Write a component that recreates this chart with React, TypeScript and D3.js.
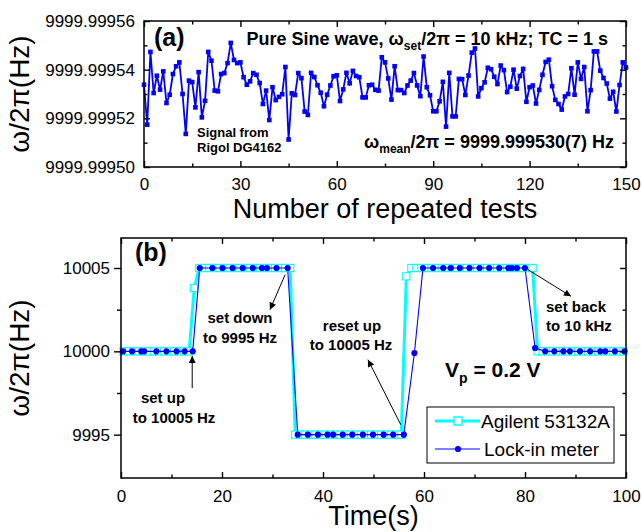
import React, { useEffect, useRef } from "react";
import * as d3 from "d3";

const FONT = "'Liberation Sans', Arial, Helvetica, sans-serif";

// (a) frequency of each repeated test, Hz (test number = index)
const sineFreq = [
  9999.9995338, 9999.9995174, 9999.9995473, 9999.9995304, 9999.9995375, 9999.9995318, 9999.9995393, 9999.9995263, 9999.9995297, 9999.9995382,
  9999.9995414, 9999.999543, 9999.99953, 9999.9995136, 9999.9995355, 9999.9995349, 9999.9995245, 9999.999539, 9999.9995204, 9999.9995272,
  9999.9995473, 9999.9995437, 9999.9995314, 9999.9995311, 9999.9995382, 9999.9995386, 9999.9995427, 9999.999551, 9999.999544, 9999.9995427,
  9999.999543, 9999.9995369, 9999.9995338, 9999.9995352, 9999.9995386, 9999.9995379, 9999.9995345, 9999.9995259, 9999.9995314, 9999.9995193,
  9999.9995328, 9999.9995275, 9999.9995288, 9999.9995299, 9999.9995411, 9999.9995113, 9999.9995303, 9999.9995296, 9999.9995386, 9999.9995365,
  9999.9995228, 9999.9995214, 9999.9995387, 9999.999537, 9999.9995336, 9999.9995305, 9999.999525, 9999.9995297, 9999.9995335, 9999.9995373,
  9999.9995377, 9999.9995271, 9999.9995319, 9999.9995387, 9999.9995344, 9999.9995395, 9999.9995374, 9999.9995369, 9999.9995286, 9999.9995286,
  9999.9995336, 9999.9995338, 9999.9995317, 9999.9995314, 9999.9995451, 9999.999543, 9999.9995364, 9999.9995277, 9999.9995414, 9999.9995316,
  9999.9995316, 9999.9995304, 9999.9995335, 9999.9995355, 9999.9995386, 9999.9995335, 9999.9995291, 9999.9995454, 9999.9995328, 9999.9995295,
  9999.9995229, 9999.9995229, 9999.999527, 9999.999535, 9999.9995166, 9999.9995387, 9999.9995208, 9999.9995208, 9999.9995362, 9999.9995361,
  9999.9995296, 9999.9995376, 9999.999547, 9999.9995487, 9999.999529, 9999.9995324, 9999.9995348, 9999.9995408, 9999.9995402, 9999.9995371,
  9999.9995341, 9999.9995417, 9999.9995398, 9999.9995308, 9999.999533, 9999.99954, 9999.9995322, 9999.9995374, 9999.9995403, 9999.9995268,
  9999.9995328, 9999.9995335, 9999.9995261, 9999.9995317, 9999.9995379, 9999.9995432, 9999.9995441, 9999.9995332, 9999.9995276, 9999.9995259,
  9999.9995236, 9999.999529, 9999.99953, 9999.9995406, 9999.9995297, 9999.999543, 9999.9995362, 9999.9995411, 9999.9995229, 9999.9995316,
  9999.9995475, 9999.9995475, 9999.9995396, 9999.9995366, 9999.9995343, 9999.9995281, 9999.9995309, 9999.9995228, 9999.9995337, 9999.999543,
  9999.9995409,
];

// (b) Agilent 53132A counter
const agilentTime = [
  0.5, 1.5, 2.5, 3.5, 4.5, 5.5, 6.5, 7.5, 8.5, 9.5, 10.5, 11.5, 12.5, 13.5, 14.5, 15.5, 16.5, 17.5, 18.5, 19.5,
  20.5, 21.5, 22.5, 23.5, 24.5, 25.5, 26.5, 27.5, 28.5, 29.5, 30.5, 31.5, 32.5, 33.5, 34.5, 35.5, 36.5, 37.5, 38.5, 39.5,
  40.5, 41.5, 42.5, 43.5, 44.5, 45.5, 46.5, 47.5, 48.5, 49.5, 50.5, 51.5, 52.5, 53.5, 54.5, 55.5, 56.5, 57.5, 58.5, 59.5,
  60.5, 61.5, 62.5, 63.5, 64.5, 65.5, 66.5, 67.5, 68.5, 69.5, 70.5, 71.5, 72.5, 73.5, 74.5, 75.5, 76.5, 77.5, 78.5, 79.5,
  80.5, 81.5, 82.5, 83.5, 84.5, 85.5, 86.5, 87.5, 88.5, 89.5, 90.5, 91.5, 92.5, 93.5, 94.5, 95.5, 96.5, 97.5, 98.5, 99.5,
];
const agilentFreq = [
  10000, 10000, 10000, 10000, 10000, 10000, 10000, 10000, 10000, 10000, 10000, 10000, 10000, 10000, 10003.8, 10005, 10005, 10005, 10005, 10005,
  10005, 10005, 10005, 10005, 10005, 10005, 10005, 10005, 10005, 10005, 10005, 10005, 10005, 10005, 9995, 9995, 9995, 9995, 9995, 9995,
  9995, 9995, 9995, 9995, 9995, 9995, 9995, 9995, 9995, 9995, 9995, 9995, 9995, 9995, 9995, 9995, 10004.5, 10005, 10005, 10005,
  10005, 10005, 10005, 10005, 10005, 10005, 10005, 10005, 10005, 10005, 10005, 10005, 10005, 10005, 10005, 10005, 10005, 10005, 10005, 10005,
  10005, 10005, 10000, 10000, 10000, 10000, 10000, 10000, 10000, 10000, 10000, 10000, 10000, 10000, 10000, 10000, 10000, 10000, 10000, 10000,
];

// (b) lock-in meter
const lockTime = [
  0.4, 2.2, 4.0, 4.6, 7.0, 9.0, 11.0, 12.6, 14.2,
  15.6, 18.1, 20.1, 22.1, 24.1, 26.1, 27.9, 28.9, 30.8, 33.0,
  35.0, 37.0, 39.0, 40.9, 42.0, 43.9, 45.8, 47.9, 49.9, 52.0, 53.9, 56.0,
  58.1,
  59.8, 61.8, 63.8, 65.3, 67.1, 69.0, 71.0, 72.9, 74.9, 76.7, 77.4, 78.4, 80.0,
  82.0,
  84.0, 85.8, 87.6, 88.9, 90.9, 92.9, 94.9, 95.9, 97.8, 99.7,
];
const lockFreq = [
  10000, 10000, 10000, 10000, 10000, 10000, 10000, 10000, 10000,
  10005, 10005, 10005, 10005, 10005, 10005, 10005, 10005, 10005, 10005,
  9995, 9995, 9995, 9995, 9995, 9995, 9995, 9995, 9995, 9995, 9995, 9995,
  9999.9,
  10005, 10005, 10005, 10005, 10005, 10005, 10005, 10005, 10005, 10005, 10005, 10005, 10005,
  10000.2,
  10000, 10000, 10000, 10000, 10000, 10000, 10000, 10000, 10000, 10000,
];

const aXTicks = [0, 30, 60, 90, 120, 150];
const aXMinor = [15, 45, 75, 105, 135];
const aYTicks = [9999.9995, 9999.99952, 9999.99954, 9999.99956];
const aYMinor = [9999.99951, 9999.99953, 9999.99955];
const bXTicks = [0, 20, 40, 60, 80, 100];
const bXMinor = [10, 30, 50, 70, 90];
const bYTicks = [9995, 10000, 10005];
const bYMinor = [9997.5, 10002.5];

export default function App() {
  const svgRef = useRef<SVGSVGElement>(null);

  useEffect(() => {
    const svg = d3.select(svgRef.current);
    svg.selectAll("*").remove();
    svg.attr("font-family", FONT);

    const defs = svg.append("defs");
    defs
      .append("marker")
      .attr("id", "arr")
      .attr("viewBox", "0 0 10 10")
      .attr("refX", 10)
      .attr("refY", 5)
      .attr("markerWidth", 9)
      .attr("markerHeight", 7)
      .attr("markerUnits", "userSpaceOnUse")
      .attr("orient", "auto")
      .append("path")
      .attr("d", "M0,0 L10,5 L0,10 z")
      .attr("fill", "#000");

    const drawAxes = (x: any, y: any, o: any) => {
      const [x0, x1] = x.range();
      const [y0, y1] = y.range();
      const g = svg.append("g").attr("color", "#000");
      const fix = (sel: any) => {
        sel.select(".domain").remove();
        sel.attr("font-size", 17).attr("font-family", FONT);
        sel.selectAll("line").attr("stroke-width", 1.4);
      };
      // bottom
      g.append("g").attr("transform", `translate(0,${y0})`)
        .call(d3.axisBottom(x).tickValues(o.xTicks).tickSize(-6).tickPadding(o.xPad).tickFormat(d3.format("d"))).call(fix);
      g.append("g").attr("transform", `translate(0,${y0})`)
        .call(d3.axisBottom(x).tickValues(o.xMinor).tickSize(-3.5).tickFormat(() => "")).call(fix);
      // top
      g.append("g").attr("transform", `translate(0,${y1})`)
        .call(d3.axisTop(x).tickValues(o.xTicks).tickSize(-6).tickFormat(() => "")).call(fix);
      g.append("g").attr("transform", `translate(0,${y1})`)
        .call(d3.axisTop(x).tickValues(o.xMinor).tickSize(-3.5).tickFormat(() => "")).call(fix);
      // left
      g.append("g").attr("transform", `translate(${x0},0)`)
        .call(d3.axisLeft(y).tickValues(o.yTicks).tickSize(o.leftOut ? 7 : -6).tickPadding(o.leftOut ? 4 : 9).tickFormat(o.yFmt)).call(fix);
      g.append("g").attr("transform", `translate(${x0},0)`)
        .call(d3.axisLeft(y).tickValues(o.yMinor).tickSize(o.leftOut ? 4 : -3.5).tickFormat(() => "")).call(fix);
      // right
      g.append("g").attr("transform", `translate(${x1},0)`)
        .call(d3.axisRight(y).tickValues(o.yTicks).tickSize(-6).tickFormat(() => "")).call(fix);
      g.append("g").attr("transform", `translate(${x1},0)`)
        .call(d3.axisRight(y).tickValues(o.yMinor).tickSize(-3.5).tickFormat(() => "")).call(fix);
      g.append("rect")
        .attr("x", x0).attr("y", y1).attr("width", x1 - x0).attr("height", y0 - y1)
        .attr("fill", "none").attr("stroke", "#000").attr("stroke-width", 1.5);
    };

    const label = (x: number, y: number, size: number, bold: boolean, anchor = "start") =>
      svg.append("text").attr("x", x).attr("y", y).attr("font-size", size)
        .attr("font-weight", bold ? "bold" : "normal").attr("text-anchor", anchor).attr("fill", "#000");

    // ---------- panel (a)
    const ax = d3.scaleLinear().domain([0, 150]).range([144, 626]);
    const ay = d3.scaleLinear().domain([9999.9995, 9999.99956]).range([167, 21]);

    const lineA = d3.line<number>().x((d, i) => ax(i)).y((d) => ay(d));
    svg.append("path").datum(sineFreq).attr("d", lineA)
      .attr("fill", "none").attr("stroke", "#0000ff").attr("stroke-width", 1.8);
    svg.append("g").selectAll("rect").data(sineFreq).enter().append("rect")
      .attr("x", (d, i) => ax(i) - 2.3).attr("y", (d) => ay(d) - 2.3)
      .attr("width", 4.6).attr("height", 4.6).attr("fill", "#0000ff");

    drawAxes(ax, ay, {
      xTicks: aXTicks, xMinor: aXMinor, yTicks: aYTicks, yMinor: aYMinor,
      xPad: 11, yFmt: d3.format(".5f"), leftOut: false,
    });

    label(154, 46, 25, true).text("(a)");
    const t1 = label(608, 45, 18, true, "end");
    t1.append("tspan").text("Pure Sine wave, ω");
    t1.append("tspan").attr("font-size", 12).attr("dy", 5).text("set");
    t1.append("tspan").attr("dy", -5).text("/2π = 10 kHz; TC = 1 s");
    label(197, 137, 13, true).text("Signal from");
    label(197, 152, 13, true).text("Rigol DG4162");
    const t2 = label(614, 148, 18, true, "end");
    t2.append("tspan").text("ω");
    t2.append("tspan").attr("font-size", 12).attr("dy", 5).text("mean");
    t2.append("tspan").attr("dy", -5).text("/2π = 9999.999530(7) Hz");

    label(385, 218, 27, false, "middle").text("Number of repeated tests");
    label(0, 0, 28, false, "middle").attr("transform", "translate(29,94) rotate(-90)").text("ω/2π(Hz)");

    // ---------- panel (b)
    const bx = d3.scaleLinear().domain([0, 100]).range([121, 626]);
    const by = d3.scaleLinear().domain([9992.4, 10006.8]).range([478, 238]);

    const agi = agilentTime.map((t, i) => [t, agilentFreq[i]]);
    const lck = lockTime.map((t, i) => [t, lockFreq[i]]);
    const lineB = d3.line<number[]>().x((d) => bx(d[0])).y((d) => by(d[1]));

    svg.append("path").datum(agi).attr("d", lineB)
      .attr("fill", "none").attr("stroke", "#00ffff").attr("stroke-width", 3);
    svg.append("g").selectAll("rect").data(agi).enter().append("rect")
      .attr("x", (d) => bx(d[0]) - 3.6).attr("y", (d) => by(d[1]) - 3.6)
      .attr("width", 7.2).attr("height", 7.2)
      .attr("fill", "#fff").attr("stroke", "#00ffff").attr("stroke-width", 1.1);
    svg.append("path").datum(lck).attr("d", lineB)
      .attr("fill", "none").attr("stroke", "#0000ff").attr("stroke-width", 1.1);
    svg.append("g").selectAll("circle").data(lck).enter().append("circle")
      .attr("cx", (d) => bx(d[0])).attr("cy", (d) => by(d[1])).attr("r", 3.1).attr("fill", "#0000ff");

    drawAxes(bx, by, {
      xTicks: bXTicks, xMinor: bXMinor, yTicks: bYTicks, yMinor: bYMinor,
      xPad: 12, yFmt: d3.format("d"), leftOut: true,
    });

    // arrows (data coordinates)
    const arrows = [
      [[14.1, 9997.8], [14.1, 9999.72]],
      [[32.5, 10004.6], [29.5, 10002.5]],
      [[55.4, 9995.6], [48.9, 9999.5]],
      [[80.6, 10004.9], [89.1, 10003.3]],
    ];
    svg.append("g").selectAll("line").data(arrows).enter().append("line")
      .attr("x1", (d) => bx(d[0][0])).attr("y1", (d) => by(d[0][1]))
      .attr("x2", (d) => bx(d[1][0])).attr("y2", (d) => by(d[1][1]))
      .attr("stroke", "#000").attr("stroke-width", 1).attr("marker-end", "url(#arr)");

    label(135, 261, 25, true).text("(b)");
    label(240, 323, 15, true, "middle").text("set down");
    label(240, 343, 15, true, "middle").text("to 9995 Hz");
    label(163, 403, 15, true, "middle").text("set up");
    label(174, 423, 15, true, "middle").text("to 10005 Hz");
    label(352, 331, 15, true, "middle").text("reset up");
    label(351, 350, 15, true, "middle").text("to 10005 Hz");
    label(546, 312, 15, true).text("set back");
    label(546, 331, 15, true).text("to 10 kHz");
    const vp = label(445, 377, 21, true);
    vp.append("tspan").text("V");
    vp.append("tspan").attr("font-size", 14).attr("dy", 6).text("p");
    vp.append("tspan").attr("dy", -6).text(" = 0.2 V");

    // legend
    const lg = svg.append("g");
    lg.append("rect").attr("x", 427).attr("y", 407).attr("width", 187).attr("height", 56)
      .attr("fill", "#fff").attr("stroke", "#000").attr("stroke-width", 1);
    lg.append("line").attr("x1", 435).attr("x2", 480).attr("y1", 421).attr("y2", 421)
      .attr("stroke", "#00ffff").attr("stroke-width", 3);
    lg.append("rect").attr("x", 454).attr("y", 417).attr("width", 8).attr("height", 8)
      .attr("fill", "#fff").attr("stroke", "#00ffff").attr("stroke-width", 1.4);
    lg.append("line").attr("x1", 435).attr("x2", 480).attr("y1", 449).attr("y2", 449)
      .attr("stroke", "#0000ff").attr("stroke-width", 1.1);
    lg.append("circle").attr("cx", 458).attr("cy", 449).attr("r", 3.1).attr("fill", "#0000ff");
    label(481, 428, 19, false).text("Agilent 53132A");
    label(484, 456, 19, false).text("Lock-in meter");

    label(373.5, 525, 27, false, "middle").text("Time(s)");
    label(0, 0, 28, false, "middle").attr("transform", "translate(29,358) rotate(-90)").text("ω/2π(Hz)");
  }, []);

  return (
    <svg
      ref={svgRef}
      width={641}
      height={532}
      style={{ position: "absolute", left: 0, top: 0, background: "#fff" }}
    ></svg>
  );
}
